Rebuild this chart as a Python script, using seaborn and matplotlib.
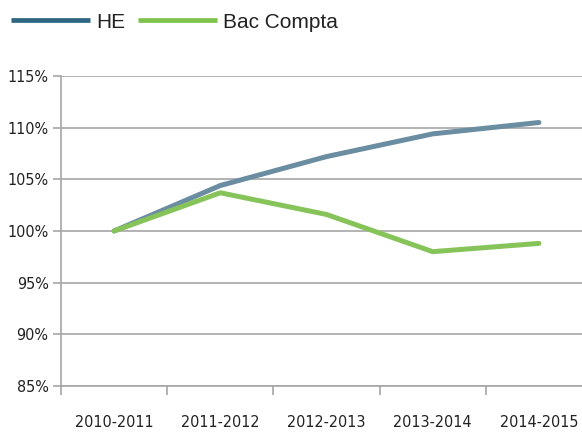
import matplotlib
matplotlib.use("Agg")
import matplotlib.pyplot as plt
import seaborn as sns
import pandas as pd
from matplotlib.lines import Line2D
from matplotlib.ticker import FixedLocator

years = ["2010-2011", "2011-2012", "2012-2013", "2013-2014", "2014-2015"]
he = [100.0, 104.4, 107.2, 109.4, 110.5]
bac = [100.0, 103.7, 101.6, 98.0, 98.8]
series_names = ["HE", "Bac Compta"]
yticks = [85, 90, 95, 100, 105, 110, 115]
ytick_labels = ["85%", "90%", "95%", "100%", "105%", "110%", "115%"]

line_colors = {"HE": "#6B8DA1", "Bac Compta": "#86C45A"}
legend_colors = {"HE": "#2E6583", "Bac Compta": "#7DC24A"}

df = pd.DataFrame({
    "year": years * 2,
    "value": he + bac,
    "series": [series_names[0]] * len(years) + [series_names[1]] * len(years),
})

sns.set_theme(style="white")
narrow = ["Liberation Sans Narrow", "DejaVu Sans"]
plt.rcParams["font.family"] = ["Liberation Sans", "DejaVu Sans"]

fig = plt.figure(figsize=(5.82, 4.34), dpi=100)
ax = fig.add_axes([61 / 582, 1 - 386 / 434, (592 - 61) / 582, (386 - 76) / 434])

sns.lineplot(data=df, x="year", y="value", hue="series", palette=line_colors,
             linewidth=3.6, ax=ax, legend=False, sort=False)
for ln in ax.lines:
    ln.set_solid_capstyle("round")
    ln.set_solid_joinstyle("round")
    ln.set_zorder(3)

ax.set_xlim(-0.5, len(years) - 0.5)
ax.set_ylim(85, 115)
ax.set_yticks(yticks)
ax.set_yticklabels(ytick_labels)
ax.yaxis.grid(True, color="#A6A6A6", linewidth=1.2)
ax.set_axisbelow(True)
ax.set_xlabel("")
ax.set_ylabel("")

for s in ["top", "right"]:
    ax.spines[s].set_visible(False)
for s in ["left", "bottom"]:
    ax.spines[s].set_visible(True)
    ax.spines[s].set_color("#A6A6A6")
    ax.spines[s].set_linewidth(1.2)

ax.tick_params(axis="y", which="major", left=True, length=6, width=1.2,
               color="#A6A6A6", pad=3, labelsize=11.5, labelcolor="#222222")
ax.xaxis.set_minor_locator(FixedLocator([i - 0.5 for i in range(len(years) + 1)]))
ax.tick_params(axis="x", which="minor", bottom=True, length=6.5, width=1.2,
               color="#A6A6A6", direction="out")
ax.tick_params(axis="x", which="major", bottom=False, length=0, pad=21,
               labelsize=11.5, labelcolor="#222222")
for lab in ax.get_xticklabels() + ax.get_yticklabels():
    lab.set_family(narrow)
    lab.set_fontstretch("condensed")

handles = [Line2D([0], [0], color=legend_colors[n], linewidth=3.4,
                  solid_capstyle="butt") for n in series_names]
fig.legend(handles, series_names, loc="center left",
           bbox_to_anchor=(11 / 582, 1 - 22 / 434), ncol=2, frameon=False,
           fontsize=15, handlelength=3.8, handletextpad=0.3, columnspacing=0.6,
           borderpad=0, borderaxespad=0, labelcolor="#222222")

fig.savefig("out.png", dpi=100)
